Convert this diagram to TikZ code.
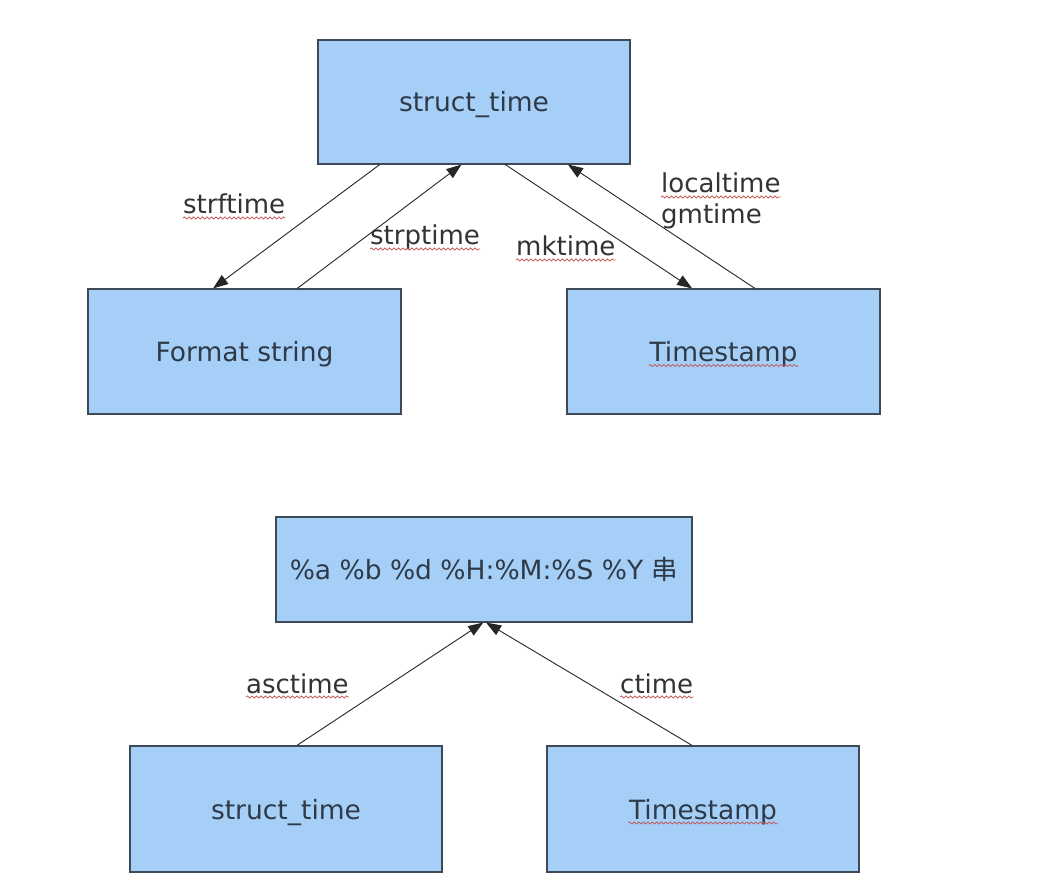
\documentclass[tikz,border=0pt]{standalone}
\usepackage{fontspec}
\setmainfont{DejaVu Sans}
\newfontfamily\cjk{Noto Sans CJK SC}
\usetikzlibrary{arrows.meta,calc,decorations.pathmorphing}
\definecolor{boxfill}{HTML}{A6CFF8}
\definecolor{boxline}{HTML}{3E4A58}
\definecolor{boxtext}{HTML}{2E3A48}
\definecolor{lbltext}{HTML}{333333}
\definecolor{wavered}{HTML}{C0504D}
\begin{document}
\begin{tikzpicture}[x=1pt,y=-1pt,
  box/.style={draw=boxline,line width=1.2pt,fill=boxfill,rectangle,inner sep=0pt,
    text=boxtext,font=\fontsize{26.5}{31}\selectfont,text height=23pt,text depth=3pt},
  lbl/.style={inner sep=0pt,text=lbltext,font=\fontsize{26}{31}\selectfont,anchor=base west},
  conn/.style={draw=black!85,line width=0.9pt,-{Triangle[length=15pt,width=11pt]}},
  wavy/.style={draw=wavered,line width=0.7pt,decorate,
    decoration={snake,amplitude=1.1pt,segment length=4.5pt}}]
\useasboundingbox[fill=white] (0,0) rectangle (1045,882);

% boxes
\node[box,minimum width=312pt,minimum height=124pt] (st1) at (474,102) {struct\_time};
\node[box,minimum width=313pt,minimum height=125pt] (fmt) at (244.5,351.5) {Format string};
\node[box,minimum width=313pt,minimum height=125pt] (ts1) at (723.5,351.5) {Timestamp};
\node[box,minimum width=416pt,minimum height=105pt] (pct) at (484,569.5) {\%a \%b \%d \%H:\%M:\%S \%Y {\cjk 串}};
\node[box,minimum width=312pt,minimum height=126pt] (st2) at (286,809) {struct\_time};
\node[box,minimum width=312pt,minimum height=126pt] (ts2) at (703,809) {Timestamp};

% connectors
\draw[conn] ($(st1.south west)!0.199!(st1.south east)$) -- ($(fmt.north west)!0.40!(fmt.north east)$);
\draw[conn] ($(fmt.north west)!0.668!(fmt.north east)$) -- ($(st1.south west)!0.46!(st1.south east)$);
\draw[conn] ($(st1.south west)!0.60!(st1.south east)$) -- ($(ts1.north west)!0.40!(ts1.north east)$);
\draw[conn] ($(ts1.north west)!0.60!(ts1.north east)$) -- ($(st1.south west)!0.80!(st1.south east)$);
\draw[conn] ($(st2.north west)!0.535!(st2.north east)$) -- ($(pct.south west)!0.498!(pct.south east)$);
\draw[conn] ($(ts2.north west)!0.465!(ts2.north east)$) -- ($(pct.south west)!0.505!(pct.south east)$);

% labels
\node[lbl] (l1) at (183,214) {strftime};
\node[lbl] (l2) at (370,245) {strptime};
\node[lbl] (l3) at (516,256) {mktime};
\node[lbl] (l4) at (661,193) {localtime};
\node[lbl] (l5) at (661,224) {gmtime};
\node[lbl] (l6) at (246,693) {asctime};
\node[lbl] (l7) at (620,693) {ctime};

% spell-check underlines
\foreach \n in {l1,l2,l3,l4,l6,l7}{
  \draw[wavy] ($(\n.base west)+(0,4)$) -- ($(\n.base east)+(0,4)$);
}
\path (ts1.center) node[box,draw=none,fill=none,opacity=0] (t1) {Timestamp};
\path (ts2.center) node[box,draw=none,fill=none,opacity=0] (t2) {Timestamp};
\draw[wavy] ($(t1.base west)+(0,4)$) -- ($(t1.base east)+(0,4)$);
\draw[wavy] ($(t2.base west)+(0,4)$) -- ($(t2.base east)+(0,4)$);
\end{tikzpicture}
\end{document}
